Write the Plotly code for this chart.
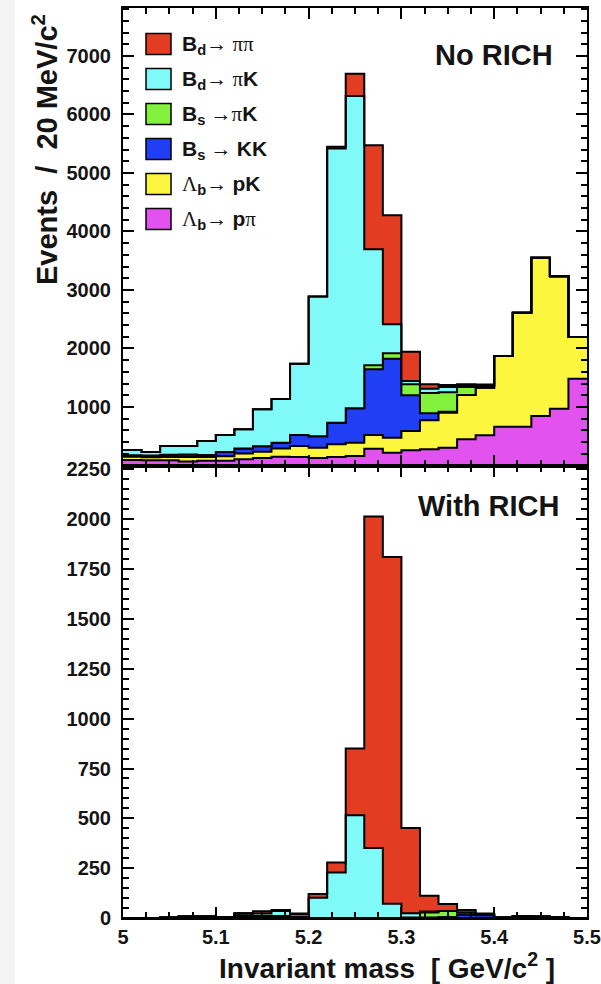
import numpy as np
import plotly.graph_objects as go

# Binning: 25 bins of 20 MeV/c^2 from 5.0 to 5.5 GeV/c^2
MASS_MIN = 5.0
BIN_WIDTH = 0.02
N_BINS = 25
edges = np.round(MASS_MIN + BIN_WIDTH * np.arange(N_BINS + 1), 3)

# ---- Events per bin, without particle identification (No RICH) ----
norich_lb_ppi = [94, 90, 90, 70, 80, 80, 107, 128, 150, 145, 128, 145, 162,
                 287, 219, 260, 276, 305, 447, 516, 663, 663, 846, 971, 1484]
norich_lb_pk = [56, 50, 55, 75, 65, 80, 98, 107, 140, 188, 177, 217, 228,
                234, 256, 330, 496, 595, 758, 814, 1208, 1947, 2704, 2264, 711]
norich_bs_kk = [25, 30, 40, 45, 35, 70, 85, 95, 100, 188, 195, 368, 587,
                1123, 1350, 610, 120, 20, 0, 0, 0, 0, 0, 0, 0]
norich_bs_pik = [0, 0, 0, 0, 0, 0, 0, 0, 0, 0, 0, 0, 0,
                 68, 92, 187, 347, 331, 137, 30, 0, 0, 0, 0, 0]
norich_bd_pik = [90, 60, 150, 143, 239, 291, 328, 630, 745, 1219, 2390, 4690, 5339,
                 1983, 496, 57, 74, 90, 25, 15, 0, 0, 0, 0, 0]
norich_bd_pipi = [0, 0, 0, 0, 0, 0, 0, 0, 0, 0, 0, 30, 382,
                  1778, 1863, 501, 74, 35, 20, 10, 0, 0, 0, 0, 0]

# ---- Events per bin, after RICH particle identification ----
rich_lb_ppi = [0, 0, 0, 0, 0, 0, 0, 0, 0, 0, 0, 0, 0,
               0, 0, 0, 0, 0, 0, 0, 0, 0, 5, 3, 0]
rich_lb_pk = [0, 0, 0, 0, 0, 0, 6, 2, 0, 0, 0, 0, 0,
              0, 0, 0, 0, 0, 0, 0, 0, 0, 0, 0, 0]
rich_bs_kk = [0, 0, 3, 8, 8, 5, 8, 8, 10, 8, 0, 0, 0,
              0, 0, 2, 2, 5, 16, 14, 3, 10, 3, 0, 0]
rich_bs_pik = [0, 0, 0, 0, 0, 0, 0, 0, 0, 0, 0, 0, 0,
               0, 0, 0, 25, 30, 12, 3, 0, 0, 0, 0, 0]
rich_bd_pik = [0, 0, 0, 0, 0, 0, 10, 12, 25, 12, 102, 228, 516,
               351, 72, 22, 5, 0, 0, 0, 0, 0, 0, 0, 0]
rich_bd_pipi = [0, 0, 0, 0, 0, 0, 0, 12, 5, 2, 19, 50, 334,
                1663, 1739, 428, 80, 35, 12, 5, 0, 0, 0, 0, 0]

SERIF = "Liberation Serif"


def sym(t):
    return f"<span style='font-family:{SERIF};font-weight:normal'>{t}</span>"


# Stack order, bottom to top: (legend label, fill colour, no-RICH, RICH)
species = [
    (sym("Λ") + "<b><sub>b</sub></b>" + sym("→ ") + "<b>p</b>" + sym("π"),
     "#e152ef", norich_lb_ppi, rich_lb_ppi),
    (sym("Λ") + "<b><sub>b</sub></b>" + sym("→ ") + "<b>pK</b>",
     "#fdf63e", norich_lb_pk, rich_lb_pk),
    ("<b>B<sub>s</sub></b>" + sym(" → ") + "<b>KK</b>",
     "#203ef3", norich_bs_kk, rich_bs_kk),
    ("<b>B<sub>s</sub></b>" + sym(" →") + sym("π") + "<b>K</b>",
     "#82f23c", norich_bs_pik, rich_bs_pik),
    ("<b>B<sub>d</sub></b>" + sym("→ ") + sym("π") + "<b>K</b>",
     "#80f9f9", norich_bd_pik, rich_bd_pik),
    ("<b>B<sub>d</sub></b>" + sym("→ ") + sym("ππ"),
     "#e23c23", norich_bd_pipi, rich_bd_pipi),
]

W, H = 601, 984
ML, MR, MT, MB = 123, 14, 8, 66
PW, PH = W - ML - MR, H - MT - MB
SPLIT = (H - MB - 465.5) / PH


def px(x):
    return (x - ML) / PW


def py(y):
    return (H - MB - y) / PH


fig = go.Figure()

# Stacked step histograms: each layer filled down to the one beneath it
for panel, (xa, ya) in enumerate([("x", "y"), ("x2", "y2")]):
    cum = np.zeros(N_BINS)
    for i, sp in enumerate(species):
        vals = np.array(sp[2 + panel], dtype=float)
        cum = cum + vals
        yv = np.append(cum, cum[-1])
        fig.add_trace(go.Scatter(
            x=edges, y=yv, mode="lines",
            line=dict(shape="hv", color="black", width=2),
            fill="tozeroy" if i == 0 else "tonexty",
            fillcolor=sp[1], xaxis=xa, yaxis=ya,
            showlegend=False, hoverinfo="skip"))

TICKFONT = dict(family="Liberation Sans", size=20, color="#141414", weight="bold")

common_x = dict(range=[5.0, 5.5], showline=True, linewidth=2, linecolor="black",
                mirror="allticks", ticks="inside", ticklen=11, tickwidth=1.5,
                tickcolor="black", showgrid=False, zeroline=False, automargin=False,
                tickvals=[5.0, 5.1, 5.2, 5.3, 5.4, 5.5],
                minor=dict(ticks="inside", ticklen=6, tickwidth=1.5,
                           tickcolor="black", dtick=0.025, showgrid=False))
common_y = dict(showline=True, linewidth=2, linecolor="black",
                mirror="allticks", ticks="inside", ticklen=11, tickwidth=1.5,
                tickcolor="black", showgrid=False, zeroline=False, automargin=False,
                tickfont=TICKFONT, ticklabelstandoff=6)

top_ticks = [1000, 2000, 3000, 4000, 5000, 6000, 7000]
bottom_ticks = [0, 250, 500, 750, 1000, 1250, 1500, 1750, 2000, 2250]

fig.update_layout(
    width=W, height=H,
    margin=dict(l=ML, r=MR, t=MT, b=MB, autoexpand=False),
    paper_bgcolor="white", plot_bgcolor="white",
    xaxis=dict(anchor="y", domain=[0, 1], showticklabels=False, **common_x),
    yaxis=dict(anchor="x", domain=[SPLIT, 1], range=[0, 7820],
               tickvals=top_ticks, ticktext=[str(v) for v in top_ticks],
               minor=dict(ticks="inside", ticklen=6, tickwidth=1.5,
                          tickcolor="black", dtick=200, showgrid=False),
               **common_y),
    xaxis2=dict(anchor="y2", domain=[0, 1], showticklabels=True,
                ticktext=["5", "5.1", "5.2", "5.3", "5.4", "5.5"],
                tickfont=TICKFONT, **common_x),
    yaxis2=dict(anchor="x2", domain=[0, SPLIT], range=[0, 2270],
                tickvals=bottom_ticks, ticktext=[str(v) for v in bottom_ticks],
                minor=dict(ticks="inside", ticklen=6, tickwidth=1.5,
                           tickcolor="black", dtick=50, showgrid=False),
                **common_y),
)

shapes = [dict(type="rect", xref="paper", yref="paper",
               x0=px(0), x1=px(15), y0=py(H), y1=py(0),
               fillcolor="#f4f4f4", line=dict(width=0), layer="below")]
annotations = []

# Legend (top to bottom: last stacked layer first)
for k, sp in enumerate(reversed(species)):
    cy = 44 + 35 * k
    shapes.append(dict(type="rect", xref="paper", yref="paper",
                       x0=px(146), x1=px(171), y0=py(cy + 10.5), y1=py(cy - 10.5),
                       fillcolor=sp[1], line=dict(color="black", width=1.5)))
    annotations.append(dict(xref="paper", yref="paper", x=px(180), y=py(cy + 1),
                            xanchor="left", yanchor="middle", showarrow=False,
                            text=sp[0],
                            font=dict(family="Liberation Sans", size=21,
                                      color="#141414")))

TITLEFONT = dict(family="Liberation Sans", size=29, color="#141414", weight="bold")
annotations += [
    dict(xref="paper", yref="paper", x=px(555), y=py(55), xanchor="right",
         yanchor="middle", showarrow=False, text="No RICH", font=TITLEFONT),
    dict(xref="paper", yref="paper", x=px(562), y=py(506), xanchor="right",
         yanchor="middle", showarrow=False, text="With RICH", font=TITLEFONT),
    dict(xref="paper", yref="paper", x=px(387), y=py(966), xanchor="center",
         yanchor="middle", showarrow=False,
         text="Invariant mass  [ GeV/c<sup>2</sup> ]",
         font=dict(TITLEFONT, size=28)),
    dict(xref="paper", yref="paper", x=px(45), y=py(150), xanchor="center",
         yanchor="middle", showarrow=False, textangle=-90,
         text="Events  /  20 MeV/c<sup>2</sup>", font=TITLEFONT),
]

fig.update_layout(shapes=shapes, annotations=annotations)
fig.write_html("out.html")
